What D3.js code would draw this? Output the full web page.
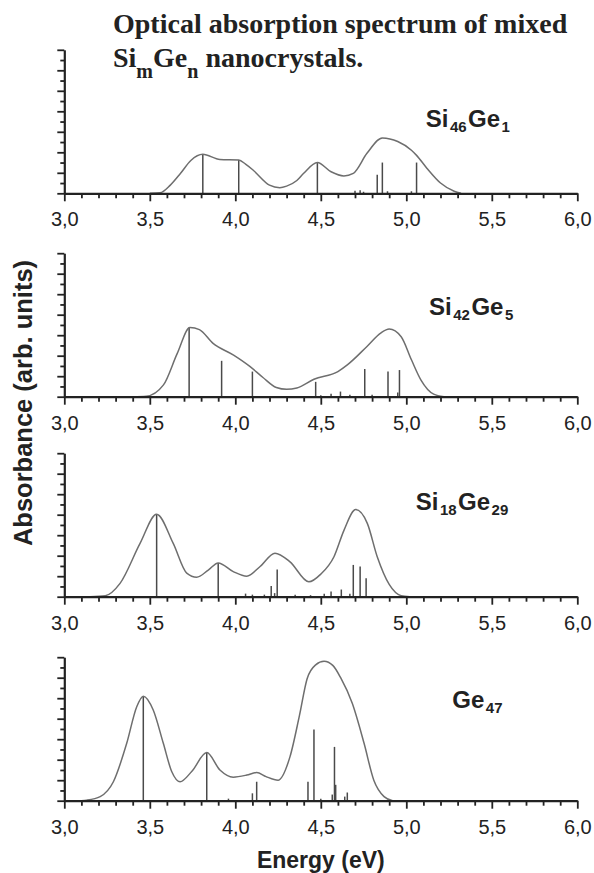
<!DOCTYPE html>
<html>
<head>
<meta charset="utf-8">
<script src="https://cdn.jsdelivr.net/npm/d3@7"></script>
<style>
  body { margin: 0; background: #fff; }
</style>
</head>
<body>
<div id="chart"></div>
<script>
// x axis (energy, eV)
const majorE = [3.0, 3.5, 4.0, 4.5, 5.0, 5.5, 6.0]
const minorE = d3.range(30, 61).filter(d => d % 5 !== 0).map(d => d / 10)
const absTicks = d3.range(0, 15)

// Si46Ge1
const p1CurveE = [3.50, 3.56, 3.62, 3.68, 3.74, 3.81, 3.91, 4.02, 4.06, 4.105, 4.20, 4.26, 4.30, 4.36, 4.40, 4.48, 4.56, 4.635, 4.69, 4.77, 4.86, 4.95, 5.03, 5.06, 5.12, 5.20, 5.28, 5.32]
const p1CurveA = [0, 0.05, 0.8, 1.95, 3.2, 3.8, 3.3, 3.25, 2.85, 2.25, 0.8, 0.55, 0.7, 1.25, 1.95, 3.0, 2.1, 1.7, 1.95, 3.9, 5.4, 5.05, 4.2, 3.7, 2.45, 1.0, 0.2, 0]
const p1StickE = [3.81, 4.02, 4.48, 4.70, 4.73, 4.75, 4.83, 4.86, 4.89, 5.03, 5.06]
const p1StickA = [3.8, 3.25, 2.95, 0.25, 0.3, 0.15, 1.8, 3.0, 0.2, 0.2, 3.0]

// Si42Ge5
const p2CurveE = [3.40, 3.48, 3.58, 3.66, 3.735, 3.79, 3.87, 3.99, 4.085, 4.16, 4.24, 4.30, 4.36, 4.46, 4.60, 4.655, 4.77, 4.85, 4.90, 4.97, 5.03, 5.085, 5.16, 5.22]
const p2CurveA = [0, 0.05, 1.15, 4.2, 6.75, 6.55, 5.2, 4.05, 2.95, 1.9, 0.9, 0.72, 0.85, 1.7, 2.45, 3.1, 4.9, 6.2, 6.6, 5.85, 3.6, 1.65, 0.25, 0]
const p2StickE = [3.73, 3.92, 4.10, 4.47, 4.50, 4.56, 4.615, 4.67, 4.757, 4.80, 4.893, 4.95, 4.96]
const p2StickA = [6.75, 3.5, 2.45, 1.45, 0.15, 0.3, 0.5, 0.2, 2.7, 0.2, 2.45, 0.4, 2.6]

// Si18Ge29
const p3CurveE = [3.15, 3.24, 3.326, 3.443, 3.54, 3.637, 3.716, 3.774, 3.842, 3.90, 3.988, 4.067, 4.145, 4.232, 4.32, 4.43, 4.50, 4.577, 4.636, 4.704, 4.772, 4.83, 4.90, 4.97, 5.02]
const p3CurveA = [0, 0.1, 1.3, 5.2, 8.05, 5.2, 2.3, 1.9, 2.6, 3.3, 2.45, 2.0, 2.95, 4.25, 3.4, 1.45, 2.2, 3.9, 6.5, 8.5, 7.15, 3.9, 1.2, 0.1, 0]
const p3StickE = [3.54, 3.90, 4.06, 4.10, 4.17, 4.21, 4.23, 4.245, 4.35, 4.44, 4.52, 4.56, 4.62, 4.67, 4.69, 4.73, 4.765]
const p3StickA = [8.05, 3.3, 0.3, 0.2, 0.2, 1.05, 0.35, 2.65, 0.2, 0.15, 0.3, 0.5, 0.7, 0.3, 3.1, 2.95, 1.8]

// Ge47
const p4CurveE = [3.10, 3.13, 3.21, 3.287, 3.365, 3.423, 3.462, 3.52, 3.579, 3.628, 3.677, 3.745, 3.833, 3.91, 3.988, 4.067, 4.125, 4.18, 4.25, 4.32, 4.375, 4.42, 4.47, 4.519, 4.57, 4.616, 4.684, 4.753, 4.81, 4.87, 4.92]
const p4CurveA = [0, 0.05, 0.4, 1.85, 5.6, 9.15, 10.2, 8.85, 5.6, 2.85, 1.85, 2.85, 4.7, 3.0, 2.3, 2.5, 2.75, 2.35, 2.0, 4.3, 8.3, 11.9, 13.25, 13.6, 13.2, 12.0, 9.5, 5.6, 2.0, 0.4, 0]
const p4StickE = [3.462, 3.833, 3.96, 4.10, 4.125, 4.425, 4.46, 4.50, 4.567, 4.58, 4.587, 4.64, 4.655]
const p4StickA = [10.2, 4.7, 0.2, 0.72, 1.85, 1.85, 6.95, 0.2, 0.6, 5.25, 1.55, 0.4, 0.8]

// label pieces: [text, isSubscript]
const panelLabels = [
  [["Si", 0], ["46", 1], ["Ge", 0], ["1", 1]],
  [["Si", 0], ["42", 1], ["Ge", 0], ["5", 1]],
  [["Si", 0], ["18", 1], ["Ge", 0], ["29", 1]],
  [["Ge", 0], ["47", 1]]
]
const titleLine1 = "Optical absorption spectrum of mixed"
const titleLine2 = [["Si", 0], ["m", 1], ["Ge", 0], ["n", 1], [" nanocrystals.", 0]]

const panels = [
  { curveE: p1CurveE, curveA: p1CurveA, stickE: p1StickE, stickA: p1StickA },
  { curveE: p2CurveE, curveA: p2CurveA, stickE: p2StickE, stickA: p2StickA },
  { curveE: p3CurveE, curveA: p3CurveA, stickE: p3StickE, stickA: p3StickA },
  { curveE: p4CurveE, curveA: p4CurveA, stickE: p4StickE, stickA: p4StickA }
]

// layout
const width = 594, height = 873
const axisY = [193.3, 396.7, 596.7, 800.7]
const plotH = 143.5
const labelX = [425.7, 429, 415.7, 452.3]
const labelUp = [66.3, 81.7, 86.7, 92.4]
const sans = "'Liberation Sans', Arial, Helvetica, sans-serif"
const serif = "'Liberation Serif', 'Times New Roman', serif"
const ink = '#222'

const svg = d3.select('#chart').append('svg')
  .attr('width', width)
  .attr('height', height)

const x = d3.scaleLinear().domain([3, 6]).range([64.3, 577.3])
const fmt = d => d3.format('.1f')(d).replace('.', ',')

const styleAxis = g => {
  g.selectAll('path').attr('stroke', ink).attr('stroke-width', 2.2)
  g.selectAll('line').attr('stroke', ink).attr('stroke-width', 1.8)
  g.selectAll('text').attr('fill', ink)
}

panels.forEach((p, i) => {
  const g = svg.append('g')
  const y = d3.scaleLinear().domain([0, 14]).range([axisY[i], axisY[i] - plotH])

  g.selectAll('line.stick')
    .data(d3.zip(p.stickE, p.stickA))
    .enter()
    .append('line')
    .attr('class', 'stick')
    .attr('x1', d => x(d[0]))
    .attr('x2', d => x(d[0]))
    .attr('y1', y(0))
    .attr('y2', d => y(d[1]))
    .attr('stroke', '#4a4a4a')
    .attr('stroke-width', 1.5)

  const line = d3.line()
    .x(d => x(d[0]))
    .y(d => y(d[1]))
    .curve(d3.curveMonotoneX)

  g.append('path')
    .datum(d3.zip(p.curveE, p.curveA))
    .attr('d', line)
    .attr('fill', 'none')
    .attr('stroke', '#6e6e6e')
    .attr('stroke-width', 1.5)

  // x axis: majors with labels, then minors
  g.append('g')
    .attr('transform', `translate(0,${y(0)})`)
    .call(d3.axisBottom(x).tickValues(majorE).tickSize(8).tickSizeOuter(0).tickPadding(11).tickFormat(fmt))
    .attr('font-size', 20)
    .attr('font-family', sans)
    .call(styleAxis)

  g.append('g')
    .attr('transform', `translate(0,${y(0)})`)
    .call(d3.axisBottom(x).tickValues(minorE).tickSize(5).tickFormat(''))
    .call(a => a.select('.domain').remove())
    .call(styleAxis)

  // y axis: long ticks on even values, short on odd
  g.append('g')
    .attr('transform', `translate(${x(3)},0)`)
    .call(d3.axisLeft(y).tickValues(absTicks.filter(d => d % 2 === 0)).tickSize(7).tickSizeOuter(0).tickFormat(''))
    .call(styleAxis)

  g.append('g')
    .attr('transform', `translate(${x(3)},0)`)
    .call(d3.axisLeft(y).tickValues(absTicks.filter(d => d % 2 === 1)).tickSize(4).tickFormat(''))
    .call(a => a.select('.domain').remove())
    .call(styleAxis)

  // panel label with subscripts
  const t = g.append('text')
    .attr('x', labelX[i])
    .attr('y', y(0) - labelUp[i])
    .attr('font-family', sans)
    .attr('font-weight', 'bold')
    .attr('fill', ink)
  panelLabels[i].forEach(([s, sub], k) => {
    const prevSub = k > 0 && panelLabels[i][k - 1][1]
    t.append('tspan')
      .attr('font-size', sub ? 15 : 24)
      .attr('dy', sub ? 5 : (prevSub ? -5 : 0))
      .attr('dx', sub ? 1.5 : (prevSub ? 1.5 : 0))
      .text(s)
  })
})

// title
svg.append('text')
  .attr('x', 113)
  .attr('y', 33.3)
  .attr('font-family', serif)
  .attr('font-weight', 'bold')
  .attr('font-size', 28)
  .attr('fill', ink)
  .text(titleLine1)

const t2 = svg.append('text')
  .attr('x', 113)
  .attr('y', 66.7)
  .attr('font-family', serif)
  .attr('font-weight', 'bold')
  .attr('fill', ink)
titleLine2.forEach(([s, sub], k) => {
  const prevSub = k > 0 && titleLine2[k - 1][1]
  t2.append('tspan')
    .attr('font-size', sub ? 20 : 28)
    .attr('dy', sub ? 11 : (prevSub ? -11 : 0))
    .text(s)
})

// axis titles
svg.append('text')
  .attr('transform', 'translate(31.5,403) rotate(-90)')
  .attr('text-anchor', 'middle')
  .attr('font-family', sans)
  .attr('font-weight', 'bold')
  .attr('font-size', 25.5)
  .attr('fill', ink)
  .text('Absorbance (arb. units)')

svg.append('text')
  .attr('x', x(4.5))
  .attr('y', 868)
  .attr('text-anchor', 'middle')
  .attr('font-family', sans)
  .attr('font-weight', 'bold')
  .attr('font-size', 23)
  .attr('fill', ink)
  .text('Energy (eV)')
</script>
</body>
</html>
